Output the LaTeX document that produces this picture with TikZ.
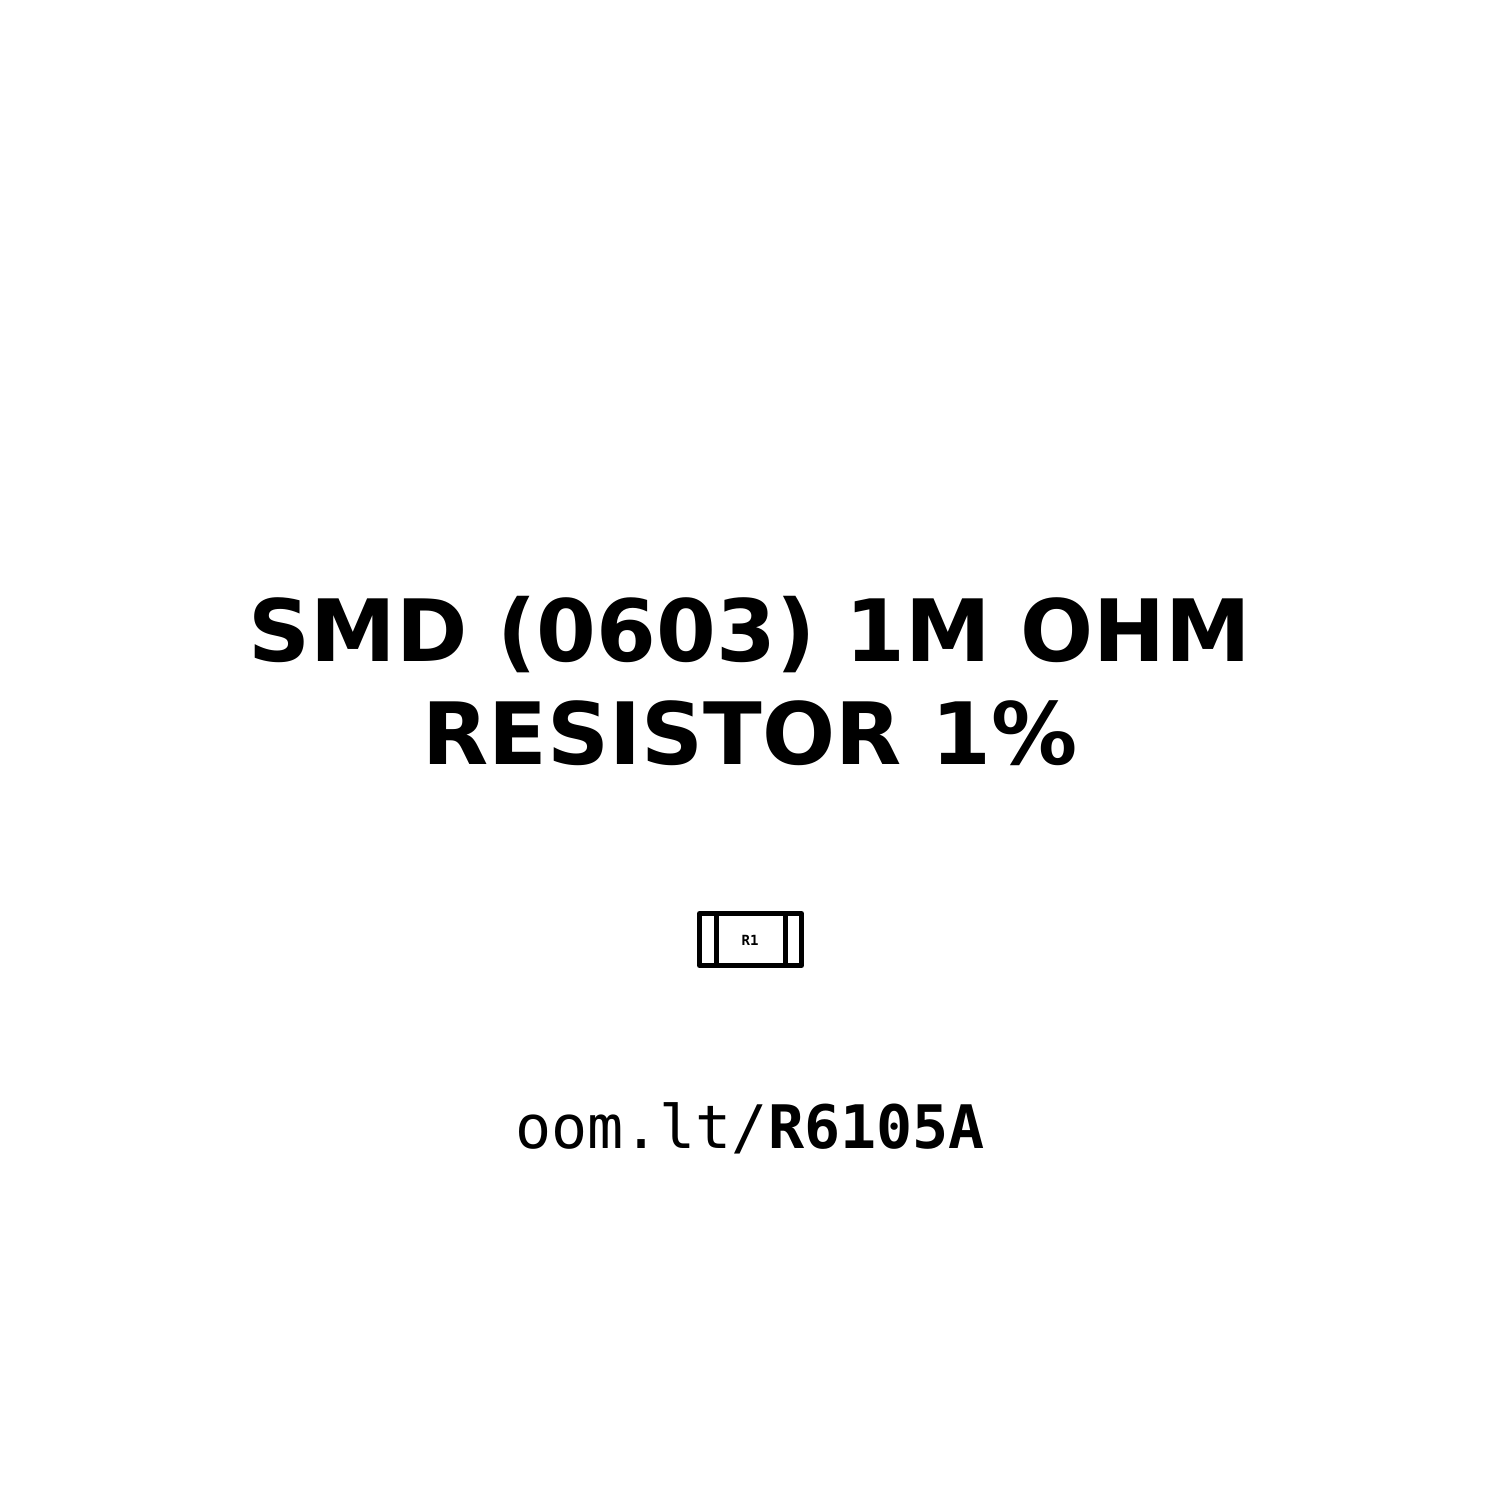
\documentclass[tikz,border=0pt]{standalone}
\usepackage{fontspec}
\setmainfont{DejaVu Sans}
\setmonofont{DejaVu Sans Mono}
\begin{document}
\begin{tikzpicture}[x=1pt,y=-1pt,
  title/.style={font=\fontsize{86}{86}\selectfont\bfseries,inner sep=0pt,anchor=base},
  url/.style={font=\fontsize{60}{60}\selectfont\ttfamily,inner sep=0pt,anchor=base},
  part/.style={draw=black,line width=5,line join=round}]
\useasboundingbox (0,0) rectangle (1500,1500);
\node[title] (t1) at (750,661) {SMD (0603) 1M OHM};
\node[title] (t2) at (750,764) {RESISTOR 1\%};
\node[url] (u) at (750,1148) {oom.lt/\textbf{R6105A}};
\draw[part] (699.5,913.5) rectangle (801.5,965.5);
\draw[part] (716,913.5) -- (716,965.5);
\draw[part] (785,913.5) -- (785,965.5);
\node[font=\fontsize{14}{14}\selectfont\ttfamily\bfseries,inner sep=0pt] (r) at (750,940) {R1};
\end{tikzpicture}
\end{document}
